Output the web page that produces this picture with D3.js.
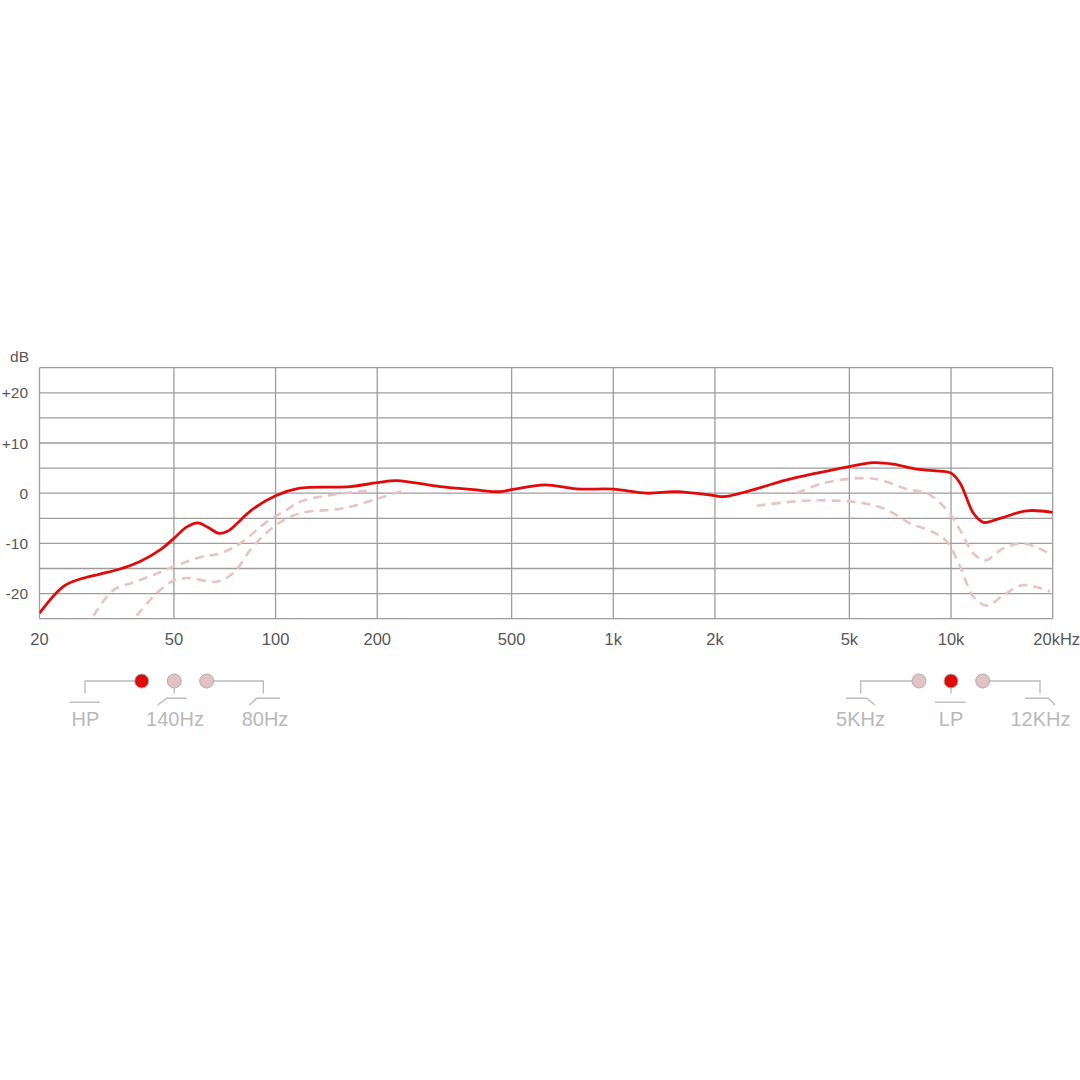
<!DOCTYPE html>
<html>
<head>
<meta charset="utf-8">
<script src="https://cdn.jsdelivr.net/npm/d3@7"></script>
<style>
  html, body { margin: 0; padding: 0; background: #fff; }
  text { font-family: "Liberation Sans", Arial, sans-serif; }
</style>
</head>
<body>
<div id="chart"></div>
<script>
// Size of the page
const width = 1080;
const height = 1080;

// Axis ticks and labels
const freqTicks = [20, 50, 100, 200, 500, 1000, 2000, 5000, 10000, 20000];
const freqLabels = ["20", "50", "100", "200", "500", "1k", "2k", "5k", "10k", "20kHz"];
const dbGrid = [-25, -20, -15, -10, -5, 0, 5, 10, 15, 20, 25];
const dbTicks = [20, 10, 0, -10, -20];
const dbLabels = ["+20", "+10", "0", "-10", "-20"];

// Main response curve [Hz, dB]
const response = [
    [20, -23.9], [23.5, -18.6], [26.4, -17.1], [30.2, -16.1], [34.6, -15.1], [39.7, -13.6],
    [45.5, -11.3], [50, -9.0], [54.6, -6.7], [59, -5.9], [63, -6.8], [68, -8.0], [72, -7.6],
    [77, -6.0], [84, -3.6], [100, -0.5], [118, 1.0], [166, 1.3], [200, 2.1], [228, 2.5], [307, 1.3],
    [385, 0.7], [462, 0.3], [500, 0.7], [628, 1.65], [779, 0.85], [1000, 0.8], [1257, 0],
    [1541, 0.3], [2000, -0.5], [2118, -0.7], [2540, 0.5], [3264, 2.65], [5000, 5.3],
    [5890, 6.1], [6750, 5.8], [7920, 4.8], [9280, 4.4], [10000, 4.0], [10640, 2.0],
    [11650, -4.0], [12470, -5.8], [13970, -5.0], [16750, -3.5], [20000, -3.8]
];

// High pass filter curves (dashed)
const hp140 = [
    [28.9, -24.4], [33.1, -19.3], [37.9, -17.8], [43.5, -16.3], [50, -14.6], [59.8, -12.75],
    [68.5, -12], [78.5, -10], [94.2, -5.7], [107.9, -3.3], [118, -1.7], [148, -0.3], [195, 0.6]
];
const hp80 = [
    [38.8, -24.4], [44.5, -19.9], [50, -17.4], [54.6, -16.9], [67.1, -17.6], [75, -15.9],
    [85.8, -10.6], [100.6, -6.3], [118, -4], [159, -3], [209, -0.7], [242, 0.65]
];

// Low pass filter curves (dashed)
const lp12k = [
    [3493, 0], [4188, 2], [5380, 3.0], [6166, 2.65], [7400, 0.8], [8478, 0], [9714, -3.3],
    [10636, -7.3], [11645, -12], [12614, -13.4], [14290, -11], [16380, -10], [19650, -12.1]
];
const lp5k = [
    [2660, -2.5], [3656, -1.5], [4590, -1.5], [5500, -2], [6455, -3.3], [7564, -6], [8870, -7.8],
    [9714, -9.6], [10636, -14.6], [11645, -20.6], [12760, -22.4], [14290, -20.3], [16380, -18.3],
    [19650, -19.6]
];

const gridColor = "#9d9d9d";
const labelColor = "#575757";
const red = "#e10a0a";
const pink = "#e8c3c3";
const legendColor = "#bcbcbc";

const svg = d3.select("#chart")
    .append("svg")
    .attr("width", width)
    .attr("height", height);

svg.append("rect").attr("width", width).attr("height", height).attr("fill", "#fff");

const x = d3.scaleLog().domain([20, 20000]).range([39.5, 1052.7]);
const y = d3.scaleLinear().domain([-25, 25]).range([618.7, 367.7]);

// grid
svg.append("g")
    .selectAll("line")
    .data(dbGrid)
    .enter()
    .append("line")
    .attr("x1", x(20)).attr("x2", x(20000))
    .attr("y1", d => y(d)).attr("y2", d => y(d))
    .attr("stroke", gridColor)
    .attr("stroke-width", 1.3);

svg.append("g")
    .selectAll("line")
    .data(freqTicks)
    .enter()
    .append("line")
    .attr("x1", d => x(d)).attr("x2", d => x(d))
    .attr("y1", y(25)).attr("y2", y(-25))
    .attr("stroke", gridColor)
    .attr("stroke-width", 1.3);

// axis labels
svg.append("g")
    .selectAll("text")
    .data(freqTicks)
    .enter()
    .append("text")
    .attr("x", (d, i) => x(d) + (i == freqTicks.length - 1 ? 4 : 0))
    .attr("y", 645)
    .attr("text-anchor", "middle")
    .attr("font-size", 16.5)
    .attr("fill", labelColor)
    .text((d, i) => freqLabels[i]);

svg.append("g")
    .selectAll("text")
    .data(dbTicks)
    .enter()
    .append("text")
    .attr("x", 28)
    .attr("y", d => y(d) + 5.5)
    .attr("text-anchor", "end")
    .attr("font-size", 15.5)
    .attr("fill", labelColor)
    .text((d, i) => dbLabels[i]);

svg.append("text")
    .attr("x", 29)
    .attr("y", 361.5)
    .attr("text-anchor", "end")
    .attr("font-size", 15.5)
    .attr("fill", labelColor)
    .text("dB");

// curves
svg.append("clipPath").attr("id", "plot-clip")
    .append("rect")
    .attr("x", x(20)).attr("y", y(25))
    .attr("width", x(20000) - x(20)).attr("height", y(-25) - y(25));

const line = d3.line()
    .x(d => x(d[0]))
    .y(d => y(d[1]))
    .curve(d3.curveCatmullRom.alpha(0.5));

const curves = svg.append("g").attr("clip-path", "url(#plot-clip)");

[hp140, hp80, lp12k, lp5k].forEach(series => {
    curves.append("path")
        .datum(series)
        .attr("d", line)
        .attr("fill", "none")
        .attr("stroke", pink)
        .attr("stroke-width", 2.6)
        .attr("stroke-dasharray", "9,6");
});

curves.append("path")
    .datum(response)
    .attr("d", line)
    .attr("fill", "none")
    .attr("stroke", red)
    .attr("stroke-width", 2.8)
    .attr("stroke-linejoin", "round");

// legend switches
const legend = svg.append("g")
    .attr("fill", "none")
    .attr("stroke", legendColor)
    .attr("stroke-width", 1.4);

function addPath(points) {
    legend.append("path").attr("d", d3.line()(points));
}

// HP group
addPath([[85, 693.5], [85, 681], [135, 681]]);
addPath([[69.5, 702.3], [100, 702.3]]);
addPath([[174.3, 688], [174.3, 693.5]]);
addPath([[157.7, 705], [166.7, 698.3], [186.7, 698.3]]);
addPath([[214, 681], [263.3, 681], [263.3, 693.5]]);
addPath([[249.3, 705], [256.7, 698.3], [280, 698.3]]);

// LP group
addPath([[860.7, 693.5], [860.7, 681], [912, 681]]);
addPath([[846, 698.3], [866.7, 698.3], [875, 705]]);
addPath([[951, 688], [951, 693.5]]);
addPath([[935, 702.3], [965.7, 702.3]]);
addPath([[990, 681], [1040, 681], [1040, 693.5]]);
addPath([[1025, 698.3], [1048.3, 698.3], [1055, 705]]);

const dots = [
    { cx: 141.7, on: true }, { cx: 174.3, on: false }, { cx: 206.7, on: false },
    { cx: 919, on: false }, { cx: 951, on: true }, { cx: 982.7, on: false }
];
svg.append("g")
    .selectAll("circle")
    .data(dots)
    .enter()
    .append("circle")
    .attr("cx", d => d.cx)
    .attr("cy", 681)
    .attr("r", 7)
    .attr("fill", d => d.on ? red : "#e2c2c2")
    .attr("stroke", "#adadad")
    .attr("stroke-width", 1);

const legendLabels = [
    { x: 85.5, t: "HP" }, { x: 175, t: "140Hz" }, { x: 265, t: "80Hz" },
    { x: 860.5, t: "5KHz" }, { x: 951, t: "LP" }, { x: 1040.5, t: "12KHz" }
];
svg.append("g")
    .selectAll("text")
    .data(legendLabels)
    .enter()
    .append("text")
    .attr("x", d => d.x)
    .attr("y", 725.5)
    .attr("text-anchor", "middle")
    .attr("font-size", 20)
    .attr("fill", "#b8b8b8")
    .text(d => d.t);
</script>
</body>
</html>
